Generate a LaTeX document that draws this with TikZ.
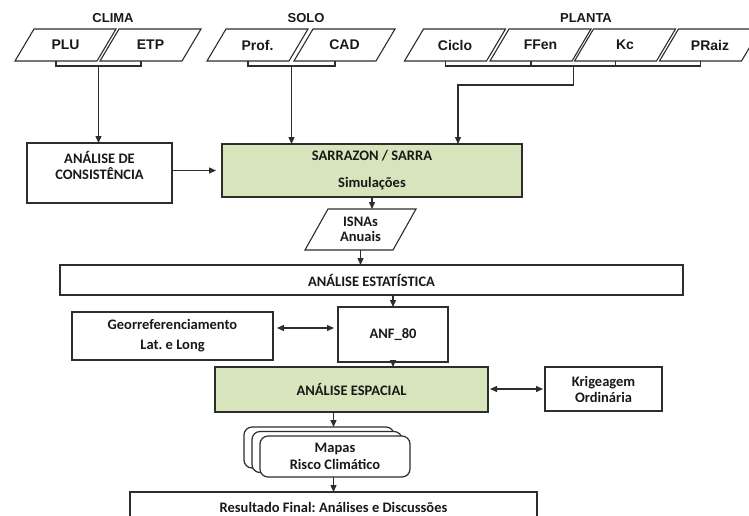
\documentclass[tikz,border=0pt]{standalone}
\usepackage{fontspec}
\setmainfont{Carlito}
\newfontfamily\arialf{Liberation Sans}
\usetikzlibrary{arrows.meta,calc}
\frenchspacing
\definecolor{lc}{RGB}{45,45,45}
\definecolor{gfill}{RGB}{216,228,188}
\definecolor{tc}{RGB}{25,25,25}
\newcommand\mycal{\fontsize{14.5}{16}\selectfont\bfseries\frenchspacing}
\newcommand\myarial{\arialf\fontsize{14}{16}\selectfont\bfseries}
\newcommand\myhdr{\arialf\fontsize{13}{15}\selectfont\bfseries}
% name, cx, cy, bottom width, slant, height, font, text
\newcommand\mypar[8]{%
  \node[inner sep=0pt, outer sep=0pt, minimum width=#4pt+#5pt, minimum height=#6pt, align=center, font=#7] (#1) at (#2,#3) {#8};
  \draw[pline] (#1.south west) -- ++(#4,0) -- (#1.north east) -- ++(-#4,0) -- cycle;
  \coordinate (#1-b) at ($(#1.south west)+(#4/2,0)$);
}
\begin{document}
\begin{tikzpicture}[x=1pt,y=-1pt,
  every node/.style={text=tc},
  box/.style={draw=lc, line width=1.4pt, rectangle, inner sep=0pt, outer sep=0pt, align=center, font=\mycal},
  gbox/.style={box, fill=gfill},
  pline/.style={draw=lc, line width=1.1pt},
  txt/.style={align=center, font=\mycal, inner sep=0pt},
  hdr/.style={font=\myhdr, inner sep=0pt},
  mbox/.style={draw=lc, line width=1.2pt, fill=white, rounded corners=8pt, minimum width=150pt, minimum height=41pt, inner sep=0pt, outer sep=0pt, align=center, font=\mycal},
  con/.style={draw=lc, line width=1.3pt},
  arr/.style={con, -{Triangle[length=7pt,width=6pt]}},
  darr/.style={con, {Triangle[length=7pt,width=6pt]}-{Triangle[length=7pt,width=6pt]}},
]
\useasboundingbox (0,0) rectangle (749,515);
\fill[white] (0,0) rectangle (749,515);

% headers
\node[hdr] (hclima) at (113,18) {CLIMA};
\node[hdr] (hsolo) at (306,18) {SOLO};
\node[hdr] (hplanta) at (586,18) {PLANTA};

% input parallelograms
\mypar{plu}{65.5}{45}{82}{19}{32}{\myarial}{PLU}
\mypar{etp}{150.5}{45}{82}{19}{32}{\myarial}{ETP}
\mypar{prof}{257.5}{45}{82}{19}{32}{\myarial}{Prof.}
\mypar{cad}{344.5}{45}{82}{19}{32}{\myarial}{CAD}
\mypar{ciclo}{455}{45}{82}{19}{32}{\myarial}{Ciclo}
\mypar{ffen}{540.5}{45}{82}{19}{32}{\myarial}{FFen}
\mypar{kc}{625}{45}{82}{19}{32}{\myarial}{Kc}
\mypar{praiz}{710}{45}{82}{19}{32}{\myarial}{PRaiz}

% brackets
\draw[con, line width=1.1pt] (plu-b) -- ++(0,5) -| (etp-b);
\draw[con, line width=1.1pt] (prof-b) -- ++(0,5) -| (cad-b);
\draw[con, line width=1.1pt] (ciclo-b) -- ++(0,5) -| (praiz-b);
\draw[con, line width=1.1pt] (ffen-b) -- ++(0,5);
\draw[con, line width=1.1pt] (kc-b) -- ++(0,5);
\coordinate (jclima) at ($(plu-b)!0.5!(etp-b)+(0,5)$);
\coordinate (jsolo) at ($(prof-b)!0.5!(cad-b)+(0,5)$);
\coordinate (jplanta) at ($(ffen-b)!0.5!(kc-b)+(0,5)$);

% main boxes
\node[box, minimum width=145pt, minimum height=60pt] (cons) at (99.5,173) {};
\node[txt] (consT) at (99.5,165) {ANÁLISE DE\\CONSISTÊNCIA};
\node[gbox, minimum width=300pt, minimum height=53pt] (sarra) at (372,170.5) {SARRAZON / SARRA\\[11pt]Simulações};
\mypar{isnas}{360.5}{229.5}{88}{23}{41}{\mycal}{ISNAs\\[-1pt]Anuais}
\node[box, minimum width=623pt, minimum height=30pt] (estat) at (371.5,280) {ANÁLISE ESTATÍSTICA};
\node[box, minimum width=110pt, minimum height=55pt] (anf) at (393,334.5) {ANF\_80};
\node[box, minimum width=201pt, minimum height=48pt] (geo) at (172.5,336) {Georreferenciamento\\[4pt]Lat. e Long};
\node[gbox, minimum width=273pt, minimum height=45pt] (esp) at (351.5,389.5) {ANÁLISE ESPACIAL};
\node[box, minimum width=117pt, minimum height=44pt] (krig) at (603.5,389) {Krigeagem\\Ordinária};
\node[mbox] (mapasB) at (319,447.5) {};
\node[mbox] (mapasM) at (327,452) {};
\node[mbox] (mapas) at (335,456.5) {Mapas\\[1pt]Risco Climático};
\node[box, minimum width=407pt, minimum height=30pt] (result) at (333.5,507) {Resultado Final: Análises e Discussões};

% connectors
\draw[arr] (jclima) -- (jclima |- cons.north);
\draw[arr] (jsolo) -- (jsolo |- sarra.north);
\coordinate (bplanta) at ($(jplanta)+(0,19)$);
\coordinate (cplanta) at (458,0);
\draw[arr] (jplanta) -- (bplanta) -- (bplanta -| cplanta) -- (cplanta |- sarra.north);
\draw[arr, shorten >=6pt] (sarra.west -| cons.east) -- (sarra.west);
\draw[arr] (sarra.south) -- (sarra.south |- isnas.north);
\draw[arr] (isnas.south) -- (isnas.south |- estat.north);
\draw[arr] (anf.north |- estat.south) -- (anf.north);
\draw[darr] ([xshift=4pt,yshift=8pt]geo.east) -- ([xshift=-4pt,yshift=8pt]geo.east -| anf.west);
\draw[arr] (anf.south) -- (anf.south |- esp.north);
\draw[darr, shorten <=2pt, shorten >=2pt] (esp.east |- krig.west) -- (krig.west);
\draw[arr] (esp.south -| result.north) -- (mapasB.north -| result.north);
\draw[arr] (mapas.south -| result.north) -- (result.north);
\end{tikzpicture}
\end{document}
